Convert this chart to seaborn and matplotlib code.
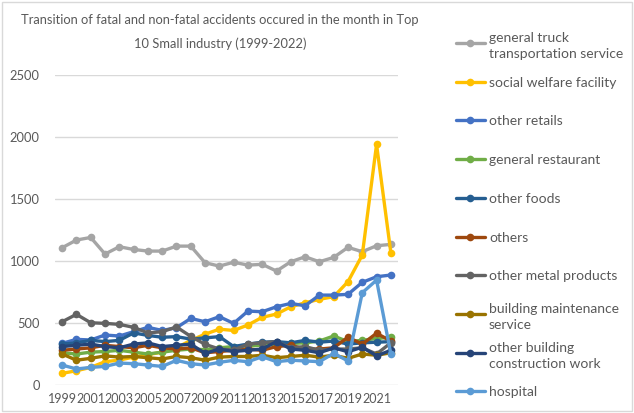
import matplotlib
matplotlib.use("Agg")
import matplotlib.pyplot as plt
import pandas as pd
import seaborn as sns
from matplotlib.lines import Line2D
from matplotlib.patches import Rectangle

years = list(range(1999, 2023))

industries = [
    "general truck\ntransportation service",
    "social welfare facility",
    "other retails",
    "general restaurant",
    "other foods",
    "others",
    "other metal products",
    "building maintenance\nservice",
    "other building\nconstruction work",
    "hospital",
]

colors = ["#A5A5A5", "#FFC000", "#4472C4", "#70AD47", "#255E91",
          "#9E480E", "#636363", "#997300", "#264478", "#5B9BD5"]

general_truck = [1107, 1169, 1190, 1056, 1115, 1093, 1080, 1080, 1120, 1120, 986, 959,
                 990, 967, 973, 919, 994, 1034, 994, 1029, 1110, 1075, 1123, 1134]
social_welfare = [94, 115, 142, 188, 201, 225, 245, 265, 300, 360, 410, 450,
                  440, 484, 546, 572, 631, 663, 691, 712, 833, 1048, 1940, 1066]
other_retails = [336, 368, 363, 403, 395, 430, 465, 440, 462, 537, 510, 551,
                 497, 596, 591, 631, 658, 639, 725, 725, 731, 828, 873, 887]
general_restaurant = [260, 250, 265, 270, 280, 265, 250, 265, 280, 290, 285, 300,
                      310, 315, 320, 330, 335, 340, 355, 395, 350, 360, 375, 385]
other_foods = [330, 340, 360, 350, 360, 420, 400, 385, 390, 370, 380, 390,
               310, 330, 345, 350, 340, 360, 345, 355, 330, 340, 345, 350]
others = [280, 290, 300, 320, 310, 300, 320, 300, 290, 300, 260, 270,
          280, 290, 280, 310, 320, 290, 290, 300, 385, 330, 417, 355]
other_metal = [510, 570, 502, 497, 489, 465, 420, 430, 468, 392, 328, 290,
               282, 330, 340, 350, 300, 310, 280, 290, 290, 300, 250, 340]
building_maint = [250, 200, 215, 235, 225, 230, 220, 210, 230, 220, 200, 225,
                  230, 230, 240, 220, 230, 240, 225, 240, 215, 250, 240, 260]
other_building = [310, 320, 330, 310, 300, 330, 340, 310, 320, 330, 255, 290,
                  270, 280, 290, 350, 290, 280, 260, 300, 268, 305, 235, 280]
hospital = [161, 129, 142, 150, 177, 172, 161, 150, 199, 172, 161, 183,
            199, 188, 228, 188, 200, 194, 188, 255, 194, 744, 846, 250]

series = [general_truck, social_welfare, other_retails, general_restaurant, other_foods,
          others, other_metal, building_maint, other_building, hospital]

df = pd.concat(
    [pd.DataFrame({"year": years, "count": vals, "industry": name})
     for name, vals in zip(industries, series)],
    ignore_index=True,
)

sns.set_theme(style="white")
plt.rcParams["font.family"] = ["Lato", "DejaVu Sans"]
text_color = "#595959"

fig = plt.figure(figsize=(6.34, 4.13), dpi=100)
ax = fig.add_axes([55 / 634, 1 - 385 / 413, (398 - 55) / 634, (385 - 75) / 413])

sns.lineplot(
    data=df, x="year", y="count", hue="industry", hue_order=industries,
    palette=colors, marker="o", markersize=5.5, markeredgewidth=0,
    linewidth=2.4, legend=False, ax=ax,
)

ax.set_xlim(1998.5, 2022.5)
ax.set_ylim(0, 2500)
ax.set_yticks(range(0, 2501, 500))
ax.set_xticks(years[::2])
ax.set_xlabel("")
ax.set_ylabel("")
ax.grid(axis="y", color="#D9D9D9", linewidth=1)
ax.set_axisbelow(True)
for s in ax.spines.values():
    s.set_visible(False)
ax.tick_params(axis="y", length=0, pad=11, labelsize=9.3, labelcolor=text_color)
ax.tick_params(axis="x", length=0, pad=6, labelsize=9, labelcolor=text_color)

fig.text(220 / 634, 1 - 14 / 413,
         "Transition of fatal and non-fatal accidents occured in the month in Top\n"
         "10 Small industry (1999-2022)",
         ha="center", va="top", multialignment="center",
         fontsize=9.3, color=text_color, linespacing=2.05)

# legend drawn by hand so the markers line up with the first text line
y0, dy = 43, 38.7
for i, (name, col) in enumerate(zip(industries, colors)):
    yf = 1 - (y0 + i * dy) / 413
    fig.add_artist(Line2D([456 / 634, 485 / 634], [yf, yf], color=col, lw=2.4,
                          transform=fig.transFigure))
    fig.add_artist(Line2D([470 / 634], [yf], color=col, marker="o", markersize=5.5,
                          markeredgewidth=0, transform=fig.transFigure))
    fig.text(489 / 634, yf, name, ha="left", va="center_baseline",
             fontsize=10, color=text_color, linespacing=1.4)

fig.add_artist(Rectangle((0.003, 0.004), 0.994, 0.992, transform=fig.transFigure,
                         fill=False, edgecolor="#D9D9D9", linewidth=1))

fig.savefig("out.png", dpi=100)
